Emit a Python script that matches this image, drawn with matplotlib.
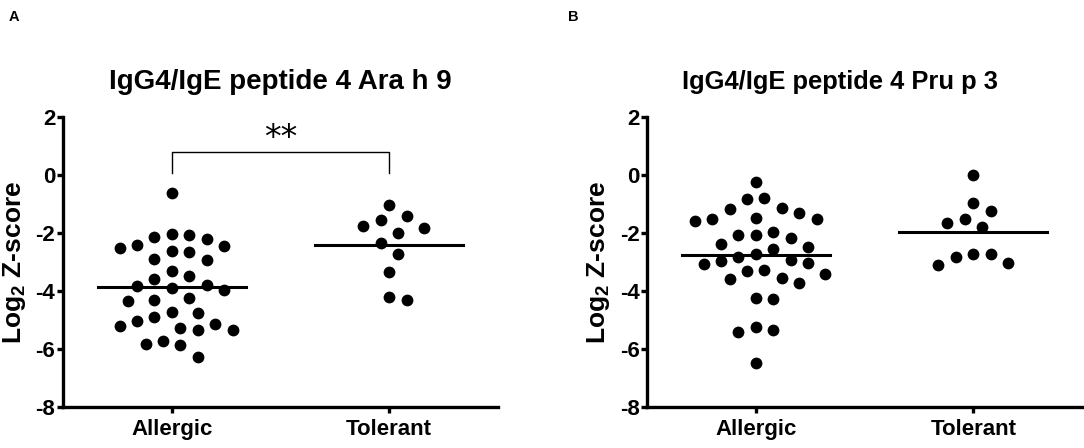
import numpy as np
import matplotlib
matplotlib.use("Agg")
import matplotlib.pyplot as plt

plt.rcParams['font.family'] = ['Liberation Sans', 'DejaVu Sans']
plt.rcParams['mathtext.default'] = 'regular'

# ---- data ----
groups = ['Allergic', 'Tolerant']

ara_allergic = [-0.62, -2.19, -2.44, -2.06, -2.05, -2.13, -2.62, -2.90, -2.65,
                -2.51, -2.92, -2.43, -3.31, -3.47, -3.78, -3.91, -3.97, -3.81,
                -3.60, -4.31, -4.34, -4.24, -4.76, -4.73, -4.90, -5.05, -5.19,
                -5.34, -5.35, -5.26, -5.15, -5.81, -5.87, -5.71, -6.27]
ara_tolerant = [-1.02, -1.56, -1.41, -1.81, -2.01, -1.76, -2.36, -2.72, -3.35,
                -4.30, -4.22]

pru_allergic = [-0.24, -0.78, -0.84, -1.16, -1.14, -1.31, -1.59, -1.49, -1.53,
                -1.51, -1.95, -2.07, -2.18, -2.07, -2.38, -2.55, -2.47, -2.81,
                -2.73, -3.08, -2.96, -2.92, -3.05, -3.31, -3.27, -3.54, -3.74,
                -3.60, -3.40, -4.27, -4.23, -5.33, -5.42, -5.24, -6.49]
pru_tolerant = [0.0, -0.97, -1.24, -1.53, -1.66, -1.78, -2.73, -2.81, -3.10,
                -3.05, -2.73]

titles = ['IgG4/IgE peptide 4 Ara h 9', 'IgG4/IgE peptide 4 Pru p 3']
panel_letters = ['A', 'B']
yticks = [-8, -6, -4, -2, 0, 2]


def swarm_x(values, center, px_x=217.0, px_y=29.0, dist=16.5, step=0.04):
    """greedy beeswarm: push points sideways until they don't collide"""
    values = np.asarray(values)
    xs = np.zeros(len(values))
    placed = []
    cands = [0]
    for k in range(1, 12):
        cands += [k, -k]
    for i in np.argsort(-values):
        y = values[i] * px_y
        for k in cands:
            x = k * step * px_x
            if all((x - a) ** 2 + (y - b) ** 2 >= dist ** 2 for a, b in placed):
                break
        placed.append((x, y))
        xs[i] = center + k * step
    return xs


fig = plt.figure(figsize=(10.84, 4.48), dpi=100)
ax_a = fig.add_axes([0.0581, 0.0915, 0.4013, 0.6473])
ax_b = fig.add_axes([0.5969, 0.0915, 0.4013, 0.6473])

panels = [(ax_a, [ara_allergic, ara_tolerant]), (ax_b, [pru_allergic, pru_tolerant])]

for idx, (ax, data) in enumerate(panels):
    for g, vals in enumerate(data):
        xs = swarm_x(vals, g)
        ax.scatter(xs, vals, s=72, color='black', zorder=3, linewidths=0)
        m = np.mean(vals)
        ax.plot([g - 0.34, g + 0.34], [m, m], color='black', lw=2.2, zorder=2)

    ax.set_xlim(-0.5, 1.5)
    ax.set_ylim(-8, 2)
    ax.set_yticks(yticks)
    ax.set_yticklabels([str(t) for t in yticks], fontsize=16, fontweight='bold')
    ax.set_xticks(range(len(groups)))
    ax.set_xticklabels(groups, fontsize=16, fontweight='bold')
    for s in ['top', 'right']:
        ax.spines[s].set_visible(False)
    for s in ['left', 'bottom']:
        ax.spines[s].set_linewidth(2.4)
    ax.tick_params(axis='both', direction='out', length=4.5, width=2.4)
    ax.tick_params(axis='y', pad=1)
    ax.tick_params(axis='x', pad=4)
    ax.set_ylabel('Log$_2$ Z-score', fontsize=19, fontweight='bold')
    ax.yaxis.set_label_coords(-0.08, 0.5)

ax_a.set_title(titles[0], fontsize=20, fontweight='bold', pad=20)
ax_b.set_title(titles[1], fontsize=18.4, fontweight='bold', pad=20, x=0.444)

# significance bracket in panel A
ax_a.plot([0, 0, 1, 1], [0.06, 0.78, 0.78, 0.06], color='black', lw=1.0)
ax_a.text(0.5, 0.68, '**', ha='center', va='bottom', fontsize=24,
          family='DejaVu Sans')

fig.text(14 / 1084, 1 - 17 / 448, panel_letters[0], fontsize=10.5,
         fontweight='bold', ha='center', va='center')
fig.text(573 / 1084, 1 - 17 / 448, panel_letters[1], fontsize=10.5,
         fontweight='bold', ha='center', va='center')

fig.savefig('out.png', dpi=100)
